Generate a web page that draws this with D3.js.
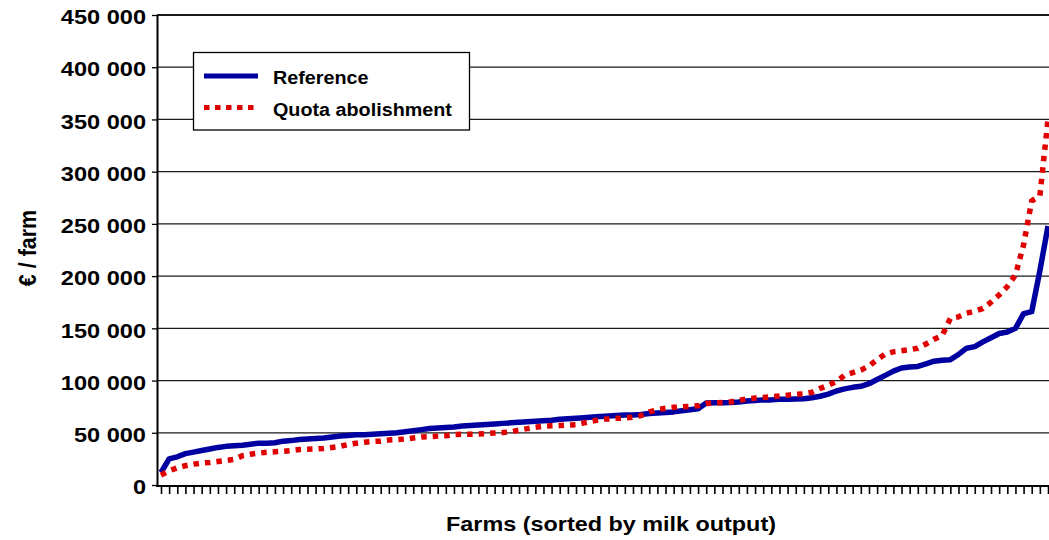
<!DOCTYPE html>
<html><head><meta charset="utf-8">
<script src="https://cdn.jsdelivr.net/npm/d3@7"></script>
<style>
html,body{margin:0;padding:0;background:#fff;}
svg{display:block;}
text{font-family:"Liberation Sans",Arial,sans-serif;font-weight:bold;fill:#000;}
</style>
</head><body>
<svg id="chart" width="1049" height="540"></svg>
<script>
// ---- data (€ per farm, farms sorted by milk output) ----
const reference = [12000,25000,27000,30000,31500,33000,34500,36000,37000,37500,
38000,39000,40000,40000,40500,42000,42500,43500,44000,44500,
45000,46000,47000,47500,48000,48000,48500,49000,49500,50000,
51000,52000,53000,54000,54500,55000,55500,56500,57000,57500,
58000,58500,59000,59500,60000,60500,61000,61500,62000,63000,
63500,64000,64500,65000,65500,66000,66500,67000,67000,67500,
68500,69000,69500,70000,71000,72000,73000,78500,78800,78800,
79000,79500,80500,81000,81500,81500,82000,82000,82300,82500,
83500,85000,87000,90000,92000,93500,94500,97000,101000,105000,
109000,112000,113000,113500,116000,118500,119500,120000,125000,131000,
132500,137000,141000,145000,146500,150000,164000,166000,205000,248000];

const quotaAbolishment = [9500,13500,16500,18500,20000,21000,21500,22500,23500,24500,
28000,29500,30500,31300,31800,32300,33000,34000,34300,34500,
35000,36000,37000,38800,40000,41000,41700,42000,43000,43500,
44000,45000,46000,46300,46800,47200,48300,48500,48500,48800,
49300,49800,50200,51000,52500,54000,55300,56300,56700,57000,
57400,57800,59500,61200,62500,63300,63800,64200,65000,66500,
70000,72000,73500,74400,74800,75300,75800,78000,78600,79000,
79500,81000,82500,83200,83800,84500,85200,86000,86700,87300,
88800,92500,95500,99000,105000,107500,110000,114000,120000,125500,
127500,128500,129500,131000,135000,139500,143000,159600,161000,164500,
166500,169000,175000,182000,190000,201000,230000,272000,277000,350000];

const farms = reference.map((d, i) => i);   // unlabeled categories
const seriesNames = ["Reference", "Quota abolishment"];
const yTickValues = [0,50000,100000,150000,200000,250000,300000,350000,400000,450000];
const yTickLabels = ["0","50 000","100 000","150 000","200 000","250 000","300 000","350 000","400 000","450 000"];
const xTitle = "Farms (sorted by milk output)";
const yTitle = "€ / farm";

// ---- drawing ----
const svg = d3.select("#chart");
const plotL = 157, plotR = 1049, plotT = 15, plotB = 485;

const x = d3.scaleLinear().domain([0, farms.length - 1]).range([161, 1048]);
const y = d3.scaleLinear().domain([0, 450000]).range([plotB, plotT]);

// gridlines
svg.append("g").selectAll("line")
  .data(yTickValues.filter(v => v > 0))
  .join("line")
  .attr("x1", plotL).attr("x2", plotR)
  .attr("y1", d => y(d)).attr("y2", d => y(d))
  .attr("stroke", "#1a1a1a")
  .attr("stroke-width", d => d === 450000 ? 2 : 1.3);

// y axis
const yAxis = svg.append("g")
  .attr("transform", `translate(${plotL},0)`)
  .call(d3.axisLeft(y).tickValues(yTickValues).tickSize(5).tickSizeOuter(0)
        .tickFormat((d, i) => yTickLabels[i]));
yAxis.select(".domain").attr("stroke", "#000").attr("stroke-width", 2);
yAxis.selectAll(".tick line").attr("stroke", "#000").attr("stroke-width", 1.3);
yAxis.selectAll(".tick text")
  .attr("x", null).attr("dy", null)
  .attr("text-anchor", "end")
  .attr("dominant-baseline", "central")
  .style("font-size", "19.5px")
  .style("font-family", '"Liberation Sans", Arial, sans-serif')
  .style("font-weight", "bold")
  .attr("transform", "translate(-11,2) scale(1.21,1)");

// x axis ticks
const xAxis = svg.append("g")
  .attr("transform", `translate(0,${plotB + 1})`)
  .call(d3.axisBottom(x).tickValues(farms).tickSize(8).tickSizeOuter(0).tickFormat(""));
xAxis.select(".domain").remove();
xAxis.selectAll(".tick line").attr("stroke", "#000").attr("stroke-width", 1.6);
svg.append("line")
  .attr("x1", plotL - 1).attr("x2", plotR)
  .attr("y1", plotB + 1).attr("y2", plotB + 1)
  .attr("stroke", "#000").attr("stroke-width", 2.2);

// lines
const line = d3.line().x((d, i) => x(i)).y(d => y(d));
svg.append("path").datum(reference)
  .attr("d", line).attr("fill", "none")
  .attr("stroke", "#0000a0").attr("stroke-width", 5.5)
  .attr("stroke-linejoin", "round");
svg.append("path").datum(quotaAbolishment)
  .attr("d", line).attr("fill", "none")
  .attr("stroke", "#e00000").attr("stroke-width", 5.5)
  .attr("stroke-dasharray", "5.5,6");

// legend
const lg = svg.append("g");
lg.append("rect").attr("x", 193.5).attr("y", 52.5).attr("width", 276).attr("height", 77.5)
  .attr("fill", "#fff").attr("stroke", "#000").attr("stroke-width", 1.3);
const legendItems = [
  {name: seriesNames[0], color: "#0000a0", dash: null, yy: 76},
  {name: seriesNames[1], color: "#e00000", dash: "5.5,5.5", yy: 107.5}
];
legendItems.forEach(it => {
  lg.append("line").attr("x1", 204).attr("x2", 258).attr("y1", it.yy).attr("y2", it.yy)
    .attr("stroke", it.color).attr("stroke-width", 5)
    .attr("stroke-dasharray", it.dash);
  lg.append("text").attr("transform", `translate(273,${it.yy + 8}) scale(1.13,1)`)
    .style("font-size", "17.5px").text(it.name);
});

// titles
svg.append("text").attr("transform", "translate(611,531) scale(1.2,1)")
  .attr("text-anchor", "middle").style("font-size", "19.5px").text(xTitle);
svg.append("text").attr("transform", "translate(36,248) scale(1.1,1) rotate(-90)")
  .attr("text-anchor", "middle").style("font-size", "21.5px").text(yTitle);
</script>
</body></html>
